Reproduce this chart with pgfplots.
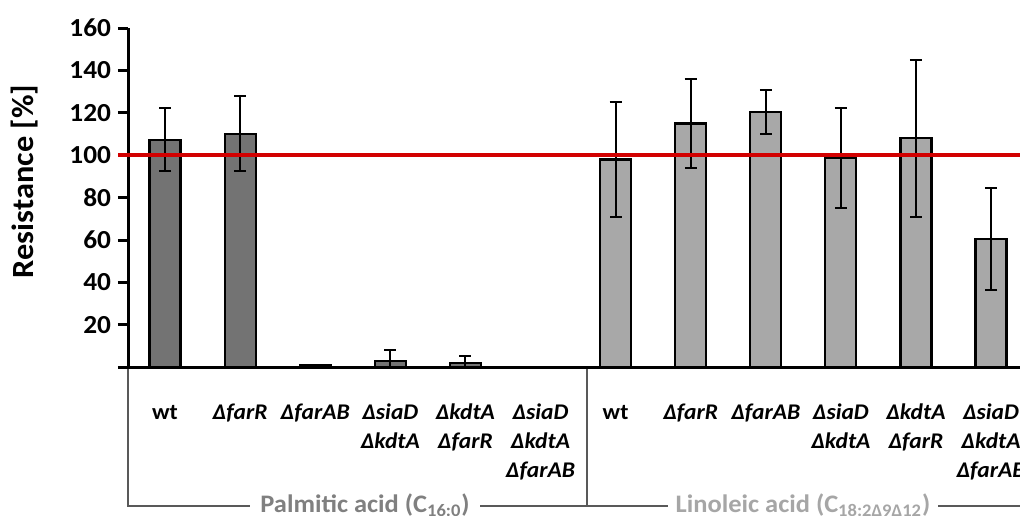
\documentclass[border=0pt]{standalone}
\usepackage{pgfplots}
\pgfplotsset{compat=1.18}
\usepackage{fontspec}
\setmainfont{Carlito}[FakeStretch=1.05]
\definecolor{darkbar}{RGB}{115,115,115}
\definecolor{lightbar}{RGB}{168,168,168}
\definecolor{redline}{RGB}{210,0,0}
\definecolor{grpA}{RGB}{128,128,128}
\definecolor{grpB}{RGB}{166,166,166}
\newcommand{\gi}[1]{\textit{#1}}
\begin{document}
\begin{tikzpicture}
\begin{axis}[
  name=ax, at={(0,0)}, anchor=south west,
  scale only axis, width=446pt, height=169.7pt,
  xmin=-0.493, xmax=11.386, ymin=0, ymax=160,
  axis x line=bottom, axis y line=left,
  axis line style={-, line width=1.5pt},
  ytick={20,40,...,160},
  extra y ticks={0}, extra y tick labels={},
  tick align=outside, major tick length=5pt,
  y tick style={line width=1.5pt, black},
  xtick={0,1,...,11}, x tick style={draw=none},
  xticklabels={
    {\vphantom{Δf}wt}, \gi{ΔfarR}, \gi{ΔfarAB}, \gi{ΔsiaD}\\\gi{ΔkdtA}, \gi{ΔkdtA}\\\gi{ΔfarR}, \gi{ΔsiaD}\\\gi{ΔkdtA}\\\gi{ΔfarAB},
    {\vphantom{Δf}wt}, \gi{ΔfarR}, \gi{ΔfarAB}, \gi{ΔsiaD}\\\gi{ΔkdtA}, \gi{ΔkdtA}\\\gi{ΔfarR}, \gi{ΔsiaD}\\\gi{ΔkdtA}\\\gi{ΔfarAB}},
  xticklabel style={font=\fontsize{11.2}{14.5}\selectfont\bfseries, align=center, anchor=north, yshift=-9.5pt},
  yticklabel style={font=\fontsize{13}{15}\selectfont\bfseries},
  /pgf/number format/assume math mode=true,
  clip=false,
]
\addplot[ybar, bar width=15.5pt, bar shift=0pt, fill=darkbar, draw=black, line width=1.1pt,
  error bars/.cd, y dir=both, y explicit,
  error bar style={line width=1pt, black},
  error mark options={rotate=90, mark size=3pt, line width=1pt, black}]
  coordinates {(0,107.3) +- (0,14.8) (1,110.2) +- (0,17.8) (2,1.2) +- (0,0) (3,3.2) += (0,5.0) -= (0,3.2) (4,2.2) += (0,3.3) -= (0,2.2)};
\addplot[ybar, bar width=15.5pt, bar shift=0pt, fill=lightbar, draw=black, line width=1.1pt,
  error bars/.cd, y dir=both, y explicit,
  error bar style={line width=1pt, black},
  error mark options={rotate=90, mark size=3pt, line width=1pt, black}]
  coordinates {(6,98.0) +- (0,27.0) (7,115.0) +- (0,21.0) (8,120.4) +- (0,10.3) (9,98.7) +- (0,23.5) (10,108.1) +- (0,37.0) (11,60.5) +- (0,24.0)};
\addplot[sharp plot, no marks, redline, line width=2pt] coordinates {(-0.62,100) (11.6,100)};
\end{axis}
% group brackets
\draw[black!65, line width=0.8pt] (0,-1pt) -- (0,-69.3pt) -- (470pt,-69.3pt);
\draw[black!65, line width=0.8pt] (229.5pt,-1pt) -- (229.5pt,-69.3pt);
\node[fill=white, text=grpA, font=\fontsize{12.6}{14}\selectfont\bfseries, inner xsep=5pt, inner ysep=1pt, anchor=base] at (118.5pt,-72.5pt) {Palmitic acid (C\textsubscript{16:0})};
\node[fill=white, text=grpB, font=\fontsize{12.6}{14}\selectfont\bfseries, inner xsep=4pt, inner ysep=1pt, anchor=base] at (337.5pt,-72.5pt) {Linoleic acid (C\textsubscript{18:2Δ9Δ12})};
\node[rotate=90, font=\fontsize{15.4}{17}\selectfont\bfseries] at (-51.5pt,93pt) {Resistance [\%]};
\pgfresetboundingbox
\useasboundingbox (-64pt,-73.8pt) rectangle (446pt,183.7pt);
\end{tikzpicture}
\end{document}
